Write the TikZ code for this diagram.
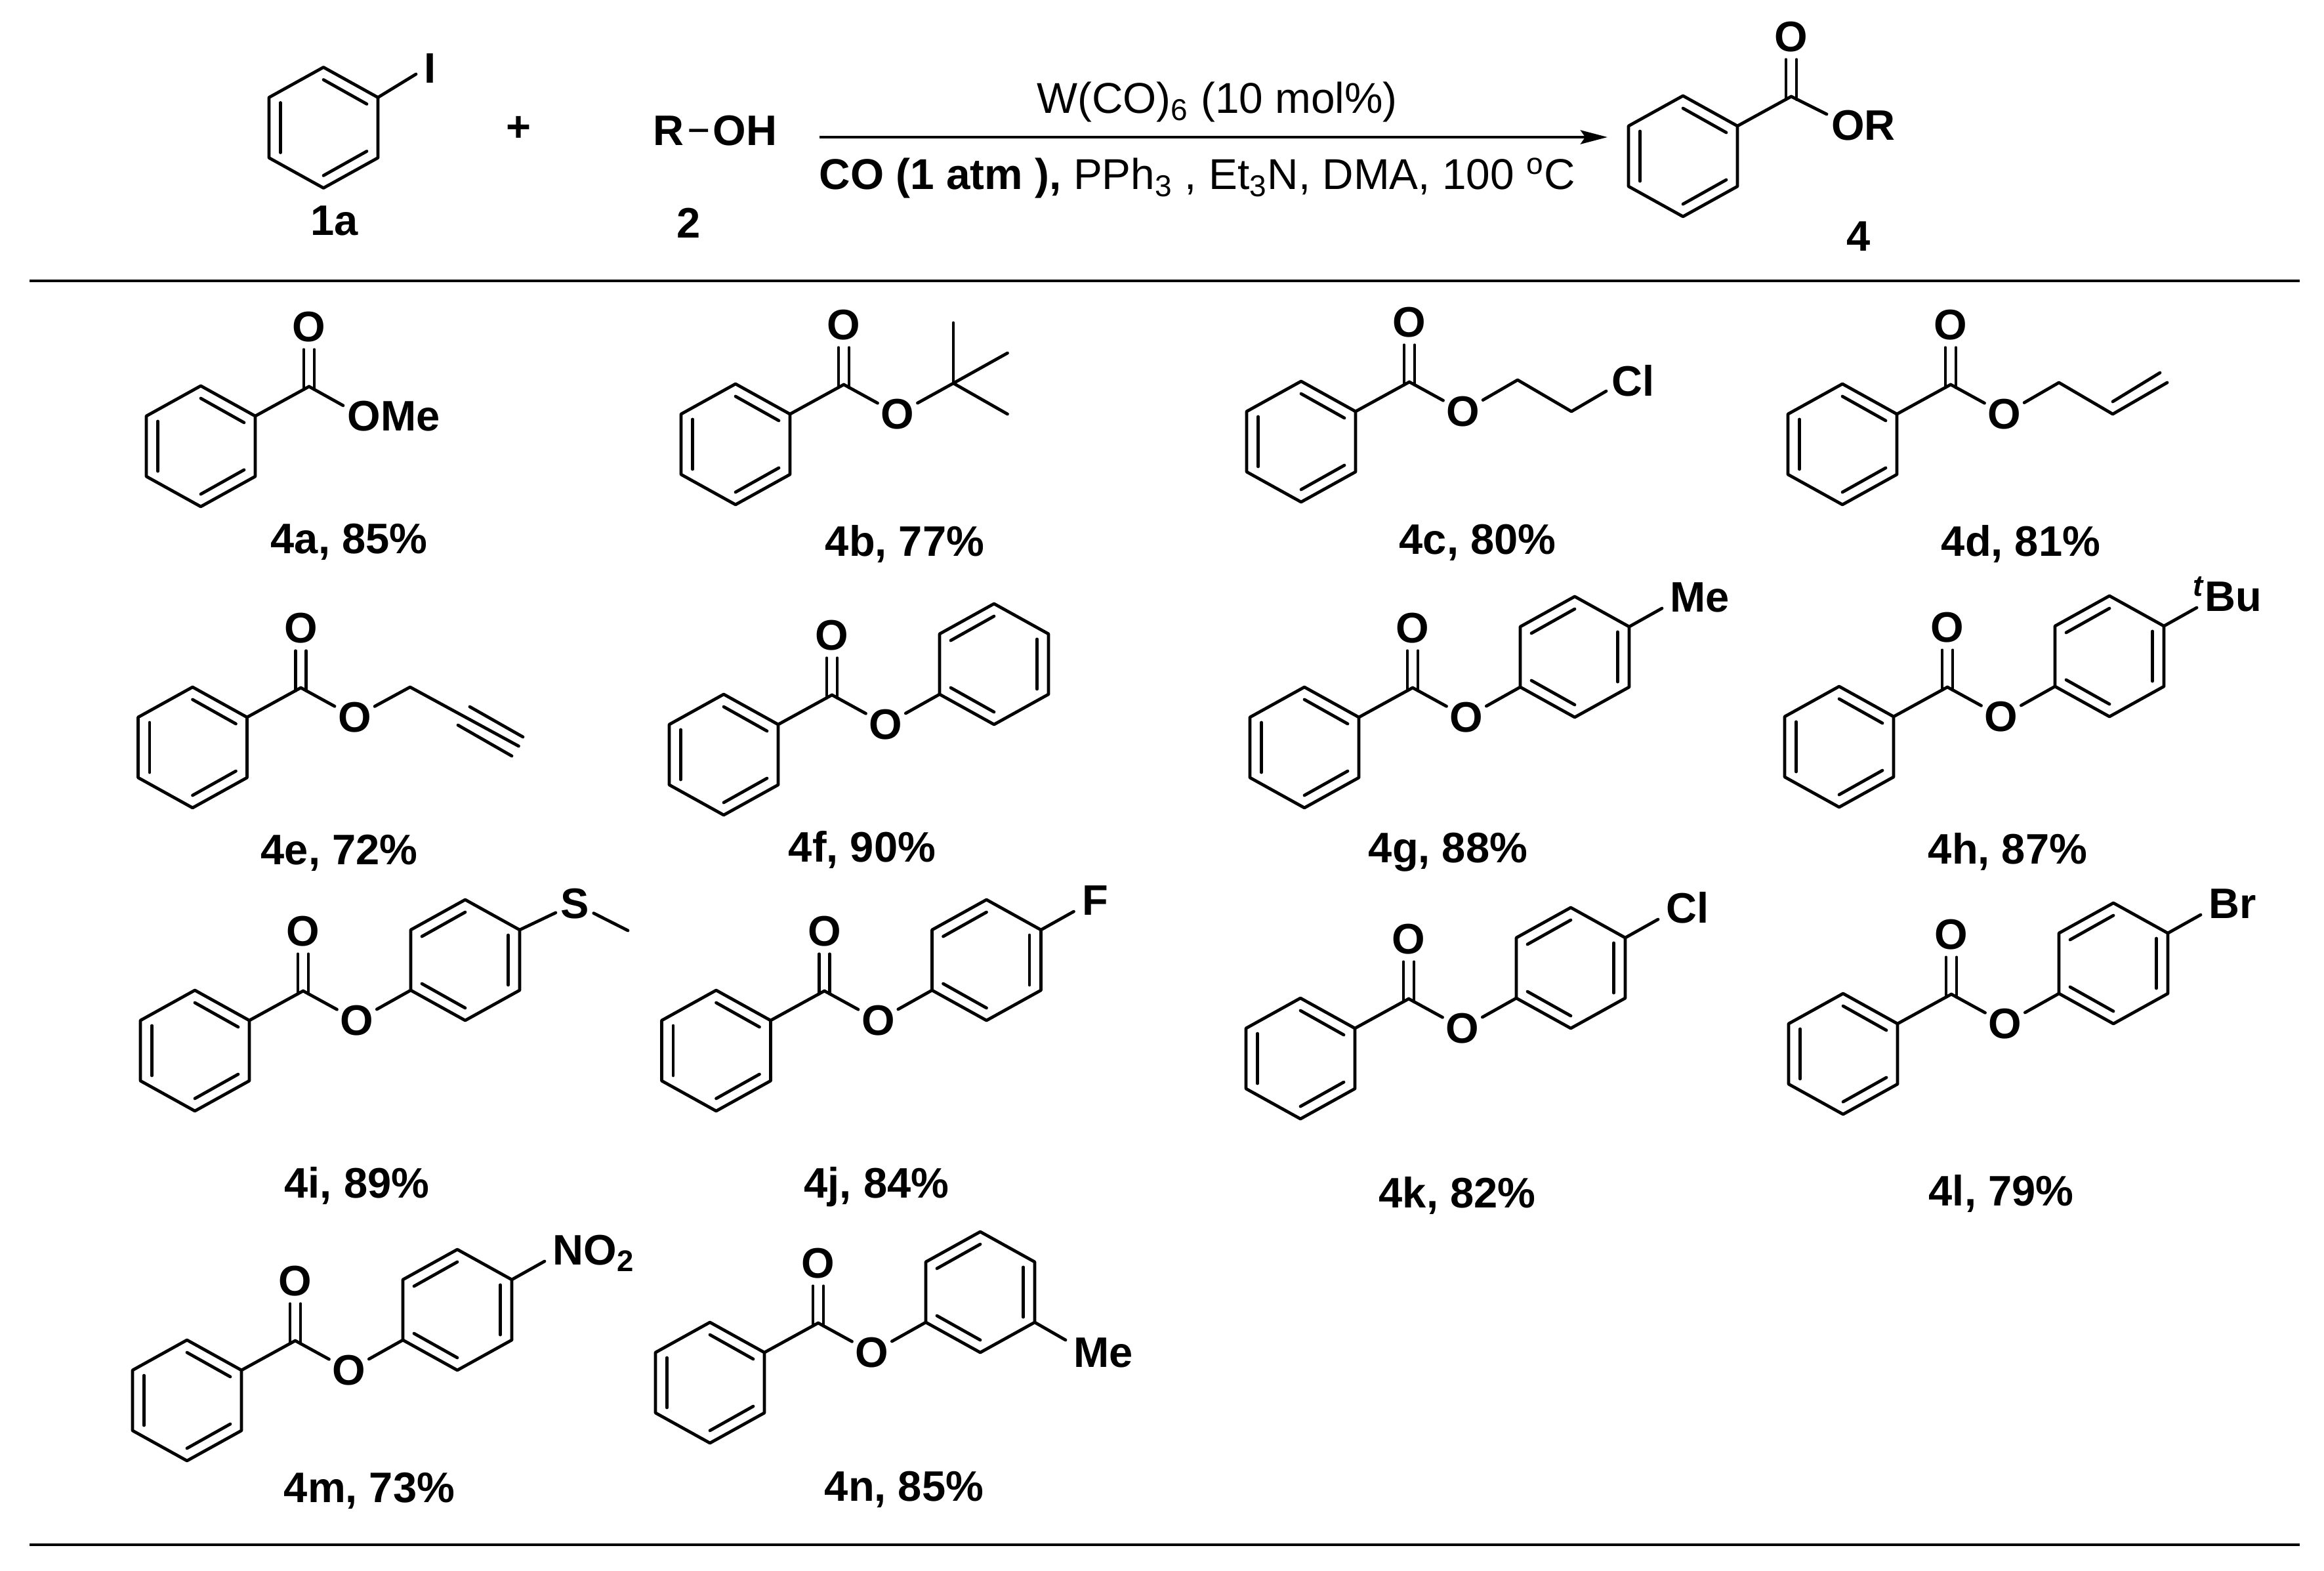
\documentclass[tikz,border=0pt]{standalone}
\usepackage{fontspec}
\setmainfont{Liberation Sans}
\usetikzlibrary{arrows.meta}

\tikzset{
  bond/.style={line width=1.35pt,line cap=round,line join=round},
  rule/.style={line width=1.4pt},
  atom/.style={circle,inner sep=0pt,font=\bfseries\fontsize{18.5}{20}\selectfont},
  atomtxt/.style={inner sep=0pt,anchor=base west,font=\bfseries\fontsize{18.5}{20}\selectfont},
  yieldlab/.style={inner sep=0pt,anchor=base,font=\bfseries\fontsize{18.5}{20}\selectfont},
  cond/.style={inner sep=0pt,anchor=base,font=\fontsize{18.7}{20}\selectfont}
}

% #2 centre, #3 name: vertices 1 to 6 run clockwise from the top
\newcommand{\phring}[3][]{
\begin{scope}[shift={#2},#1]
 \coordinate (#31) at (0,.92);
 \coordinate (#32) at (.83,.46);
 \coordinate (#33) at (.83,-.46);
 \coordinate (#34) at (0,-.92);
 \coordinate (#35) at (-.83,-.46);
 \coordinate (#36) at (-.83,.46);
 \draw[bond] (#31)--(#32)--(#33)--(#34)--(#35)--(#36)--cycle;
 \draw[bond] (-.655,.38)--(-.655,-.38);
 \draw[bond] (0,.73)--(.66,.36);
 \draw[bond] (0,-.73)--(.66,-.36);
\end{scope}
}

\newcommand{\benzoyl}[2]{
\begin{scope}[shift={#1}]
 \coordinate (C#2) at (0,0);
 \coordinate (P#2) at (.82,-.45);
 \coordinate (Q#2) at (2.47,.47);
 \node[atom] (O#2) at (0,.91) {O};
 \phring{(-1.65,-.91)}{a#2}
 \draw[bond] (a#22)--(C#2);
 \draw[bond] ([xshift=-.08cm,yshift=-.045cm]C#2)--([xshift=-.08cm]O#2.south);
 \draw[bond] ([xshift=.08cm,yshift=-.045cm]C#2)--([xshift=.08cm]O#2.south);
\end{scope}
}

\newcommand{\estero}[1]{
 \node[atom] (E#1) at (P#1) {O};
 \draw[bond] (C#1)--(E#1);
}

\newcommand{\phenoxy}[1]{
 \estero{#1}
 \phring[xscale=-1]{(Q#1)}{r#1}
 \draw[bond] (E#1)--(r#13);
}

\newcommand{\parasub}[2]{
 \node[atomtxt] (X#1) at ([shift={(.62,.23)}]r#16) {#2};
 \coordinate (Y#1) at ([shift={(.5,.28)}]r#16);
 \draw[bond] (r#16)--(Y#1);
}

\begin{document}
\begin{tikzpicture}

\useasboundingbox (0,0) rectangle (35.42,-23.93);

\phring{(4.93,-1.945)}{r1a}
\node[atom] (I1a) at (6.56,-1.04) {I};
\coordinate (Y1a) at (6.34,-1.13);
\draw[bond] (r1a2)--(Y1a);
\node[yieldlab] (n1a) at (5.10,-3.58) {1a};

\node[atom] (plus) at (7.90,-1.96) {+};

\node[atomtxt,inner sep=2pt] (R2) at (9.88,-2.21) {R};
\node[atomtxt,inner sep=2pt] (OH2) at (10.79,-2.21) {OH};
\draw[bond,line cap=butt] (R2)--(OH2);
\node[yieldlab] (n2) at (10.50,-3.62) {2};

\coordinate (arrL) at (12.49,-2.09);
\coordinate (arrR) at (24.50,-2.09);
\draw[rule,-{Stealth[length=.41cm,width=.21cm,inset=.07cm]}] (arrL)--(arrR);
\node[cond] (catal) at (18.55,-1.72) {W(CO)\textsubscript{6} (10 mol\%)};
\node[cond] (condn) at (18.25,-2.88) {\textbf{CO (1 atm ),} PPh\textsubscript{3} , Et\textsubscript{3}N, DMA, 100 \textsuperscript{o}C};

\benzoyl{(27.30,-1.47)}{4}
\node[atomtxt] (OR4) at (27.905,-2.13) {OR};
\coordinate (Y4) at (27.84,-1.74);
\draw[bond] (C4)--(Y4);
\node[yieldlab] (n4) at (28.33,-3.82) {4};

\coordinate (ruleAL) at (.45,-4.28);
\coordinate (ruleAR) at (35.05,-4.28);
\draw[rule] (ruleAL)--(ruleAR);

\benzoyl{(4.71,-5.89)}{4a}
\node[atomtxt] (OMe4a) at (5.29,-6.56) {OMe};
\coordinate (Y4a) at (5.23,-6.18);
\draw[bond] (C4a)--(Y4a);
\node[yieldlab] (n4a) at (5.32,-8.43) {4a, 85\%};

\benzoyl{(12.86,-5.86)}{4b}
\estero{4b}
\coordinate (q4b) at (14.53,-5.84);
\coordinate (m4b1) at (14.53,-4.92);
\coordinate (m4b2) at (15.355,-5.38);
\coordinate (m4b3) at (15.355,-6.31);
\draw[bond] (E4b)--(q4b);
\draw[bond] (q4b)--(m4b1);
\draw[bond] (q4b)--(m4b2);
\draw[bond] (q4b)--(m4b3);
\node[yieldlab] (n4b) at (13.79,-8.47) {4b, 77\%};

\benzoyl{(21.48,-5.82)}{4c}
\estero{4c}
\coordinate (c4c1) at (23.13,-5.79);
\coordinate (c4c2) at (23.95,-6.27);
\coordinate (Y4c) at (24.48,-5.96);
\draw[bond] (E4c)--(c4c1)--(c4c2)--(Y4c);
\node[atomtxt] (Cl4c) at (24.56,-6.03) {Cl};
\node[yieldlab] (n4c) at (22.52,-8.44) {4c, 80\%};

\benzoyl{(29.73,-5.86)}{4d}
\estero{4d}
\coordinate (c4d1) at (31.38,-5.83);
\coordinate (c4d2) at (32.20,-6.31);
\coordinate (c4d3) at (33.03,-5.83);
\draw[bond] (E4d)--(c4d1)--(c4d2)--(c4d3);
\draw[bond] (32.20,-6.12)--(32.92,-5.68);
\node[yieldlab] (n4d) at (30.80,-8.47) {4d, 81\%};

\benzoyl{(4.585,-10.48)}{4e}
\estero{4e}
\coordinate (c4e1) at (6.25,-10.47);
\coordinate (c4e2) at (7.905,-11.37);
\draw[bond] (E4e)--(c4e1)--(c4e2);
\draw[bond] (7.16,-10.77)--(7.97,-11.23);
\draw[bond] (6.98,-11.05)--(7.80,-11.52);
\node[yieldlab] (n4e) at (5.17,-13.17) {4e, 72\%};

\benzoyl{(12.68,-10.59)}{4f}
\phenoxy{4f}
\node[yieldlab] (n4f) at (13.14,-13.13) {4f, 90\%};

\benzoyl{(21.53,-10.48)}{4g}
\phenoxy{4g}
\parasub{4g}{Me}
\node[yieldlab] (n4g) at (22.07,-13.14) {4g, 88\%};

\benzoyl{(29.68,-10.47)}{4h}
\phenoxy{4h}
\parasub{4h}{\llap{\textsuperscript{\textit{t}}}Bu}
\node[yieldlab] (n4h) at (30.60,-13.16) {4h, 87\%};

\benzoyl{(4.62,-15.10)}{4i}
\phenoxy{4i}
\node[atom] (S4i) at (8.76,-13.77) {S};
\coordinate (m4i) at (9.57,-14.18);
\draw[bond] (r4i6)--(S4i);
\draw[bond] (S4i)--(m4i);
\node[yieldlab] (n4i) at (5.44,-18.25) {4i, 89\%};

\benzoyl{(12.565,-15.10)}{4j}
\phenoxy{4j}
\parasub{4j}{F}
\node[yieldlab] (n4j) at (13.36,-18.25) {4j, 84\%};

\benzoyl{(21.47,-15.22)}{4k}
\phenoxy{4k}
\parasub{4k}{Cl}
\node[yieldlab] (n4k) at (22.21,-18.40) {4k, 82\%};

\benzoyl{(29.74,-15.15)}{4l}
\phenoxy{4l}
\parasub{4l}{Br}
\node[yieldlab] (n4l) at (30.50,-18.37) {4l, 79\%};

\benzoyl{(4.50,-20.43)}{4m}
\phenoxy{4m}
\parasub{4m}{NO\textsubscript{2}}
\node[yieldlab] (n4m) at (5.63,-22.89) {4m, 73\%};

\benzoyl{(12.47,-20.16)}{4n}
\phenoxy{4n}
\node[atomtxt] (Me4n) at (16.36,-20.83) {Me};
\coordinate (Y4n) at (16.24,-20.42);
\draw[bond] (r4n5)--(Y4n);
\node[yieldlab] (n4n) at (13.78,-22.87) {4n, 85\%};

\coordinate (ruleBL) at (.45,-23.54);
\coordinate (ruleBR) at (35.05,-23.54);
\draw[rule] (ruleBL)--(ruleBR);

\end{tikzpicture}
\end{document}
